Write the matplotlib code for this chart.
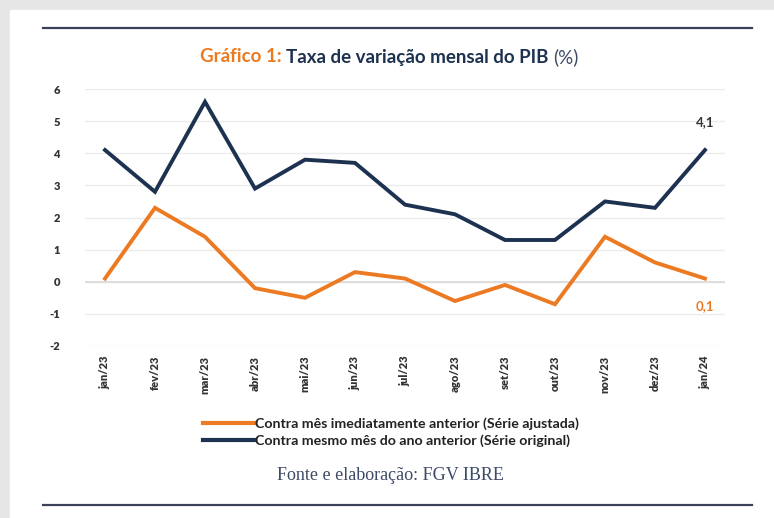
import matplotlib
matplotlib.use("Agg")
import matplotlib.pyplot as plt
from matplotlib.lines import Line2D

meses = ["jan/23", "fev/23", "mar/23", "abr/23", "mai/23", "jun/23", "jul/23",
         "ago/23", "set/23", "out/23", "nov/23", "dez/23", "jan/24"]
ajustada = [0.1, 2.3, 1.4, -0.2, -0.5, 0.3, 0.1, -0.6, -0.1, -0.7, 1.4, 0.6, 0.1]
original = [4.1, 2.8, 5.6, 2.9, 3.8, 3.7, 2.4, 2.1, 1.3, 1.3, 2.5, 2.3, 4.1]

ORANGE, NAVY, GREY = "#ec7a22", "#1d3150", "#333333"
plt.rcParams["font.family"] = ["Lato", "DejaVu Sans"]

fig = plt.figure(figsize=(7.74, 5.18), dpi=100, facecolor="#e6e6e6")
# white page
fig.patches.append(plt.Rectangle((10 / 774, 0), 1, 1 - 10 / 518, transform=fig.transFigure,
                                 color="white", zorder=-10))
for y in (28, 505):
    fig.add_artist(Line2D([43 / 774, 752 / 774], [1 - y / 518] * 2, color="#3a4158",
                          lw=1.6, transform=fig.transFigure))

# title in three pieces
fig.canvas.draw()
r = fig.canvas.get_renderer()
parts = [("Gráfico 1: ", ORANGE, "bold"), ("Taxa de variação mensal do PIB ", NAVY, "bold"),
         ("(%)", "#3d4a66", "normal")]
txts = [fig.text(0, 1 - 57 / 518, s, color=c, fontweight=w, fontsize=13.5, va="center")
        for s, c, w in parts]
widths = [t.get_window_extent(r).width for t in txts]
x = 389 - sum(widths) / 2
for t, w in zip(txts, widths):
    t.set_x(x / 774)
    x += w

ax = fig.add_axes([85 / 774, 1 - 346 / 518, 640 / 774, 257 / 518])
ax.patch.set_alpha(0)
xs = range(len(meses))
ax.plot(xs, ajustada, color=ORANGE, lw=2.8, solid_joinstyle="miter")
ax.plot(xs, original, color=NAVY, lw=2.8, solid_joinstyle="miter")
ax.set_xlim(-0.4, 12.4)
ax.set_ylim(-2, 6)
ax.set_yticks(range(-2, 7))
ax.set_yticklabels([str(v) for v in range(-2, 7)], fontsize=8, fontweight="heavy", color=GREY)
ax.set_xticks(list(xs))
ax.set_xticklabels(meses, rotation=90, fontsize=8, fontweight="heavy", color=GREY)
ax.tick_params(length=0, pad=7)
ax.tick_params(axis="y", pad=18)
ax.grid(axis="y", color="#ececec", lw=1)
ax.axhline(0, color="#d9d9d9", lw=1.2, zorder=1)
for s in ax.spines.values():
    s.set_visible(False)
ax.set_axisbelow(True)

ax.annotate(f"{original[-1]:.1f}".replace(".", ","), (12, original[-1]), xytext=(0, 17),
            textcoords="offset points", ha="center", fontsize=9.5, fontweight="bold", color=GREY)
ax.annotate(f"{ajustada[-1]:.1f}".replace(".", ","), (12, ajustada[-1]), xytext=(0, -23),
            textcoords="offset points", ha="center", fontsize=9.5, fontweight="bold", color=ORANGE)

handles = [Line2D([], [], color=ORANGE, lw=3), Line2D([], [], color=NAVY, lw=3)]
fig.legend(handles, ["Contra mês imediatamente anterior (Série ajustada)",
                     "Contra mesmo mês do ano anterior (Série original)"],
           loc="center left", bbox_to_anchor=(190 / 774, 1 - 432 / 518), frameon=False,
           prop={"size": 10.2, "weight": "bold"}, handlelength=3.6, handletextpad=0.1,
           labelspacing=0.3, labelcolor="#222222")
fig.text(390 / 774, 1 - 475 / 518, "Fonte e elaboração: FGV IBRE", ha="center", va="center",
         fontsize=13, color="#3d4a66", family=["Liberation Serif", "DejaVu Serif"])

fig.savefig("out.png", dpi=100, facecolor=fig.get_facecolor())
